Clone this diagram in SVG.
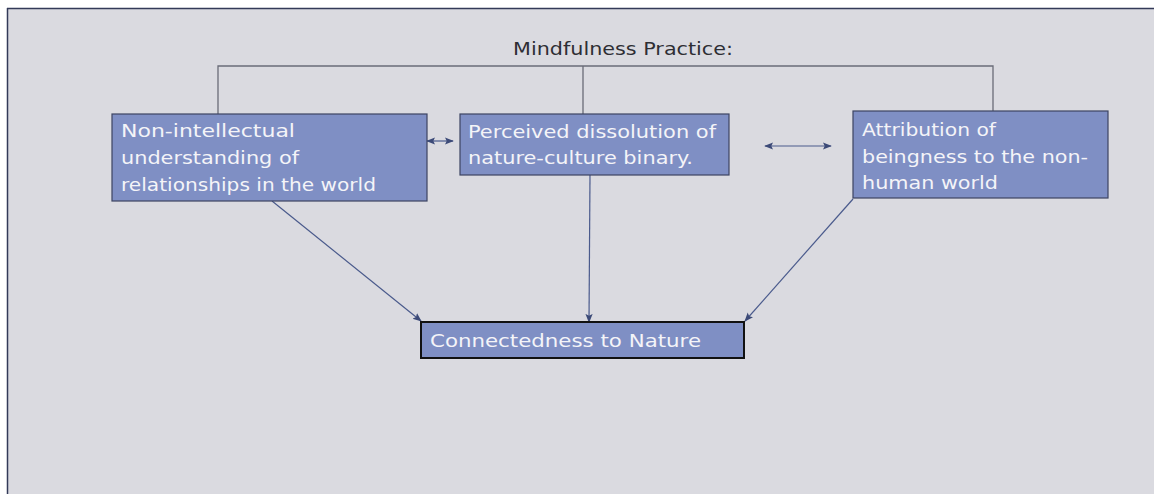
<svg xmlns="http://www.w3.org/2000/svg" width="1154" height="494" viewBox="0 0 1154 494">
<style>
.node rect{fill:#7f8fc4;stroke:#3c4462;stroke-width:1.2}
.node text{font-family:"DejaVu Sans","Liberation Sans",sans-serif;font-size:18px;fill:#f4f4f8}
.bracket{fill:none;stroke:#6a6c78;stroke-width:1.3}
.arr{fill:none;stroke:#4a5a8c;stroke-width:1.2}
</style>
<defs>
<marker id="ah" viewBox="0 0 10 10" refX="9" refY="5" markerWidth="9" markerHeight="9" orient="auto-start-reverse" markerUnits="userSpaceOnUse">
<path d="M0,1 L10,5 L0,9 L2,5 Z" fill="#3c4a78"/>
</marker>
</defs>
<rect x="0" y="0" width="1154" height="494" fill="#ffffff"/>
<rect x="7" y="8" width="1147" height="486" fill="#dadae0"/>
<line x1="7" y1="8.5" x2="1154" y2="8.5" stroke="#333a58" stroke-width="1.5"/>
<line x1="7.5" y1="8" x2="7.5" y2="494" stroke="#333a58" stroke-width="1.5"/>

<g id="title">
<text x="513" y="55" font-family="DejaVu Sans, Liberation Sans, sans-serif" font-size="18" fill="#2e2e34" textLength="220" lengthAdjust="spacingAndGlyphs">Mindfulness Practice:</text>
</g>

<g id="connectors">
<path class="bracket" d="M218,114 V66 H993 V111 M583,66 V114"/>
<line class="arr" x1="427" y1="141" x2="453" y2="141" marker-start="url(#ah)" marker-end="url(#ah)"/>
<line class="arr" x1="765" y1="146" x2="831" y2="146" marker-start="url(#ah)" marker-end="url(#ah)"/>
<line class="arr" x1="272" y1="201" x2="421" y2="321" marker-end="url(#ah)"/>
<line class="arr" x1="590" y1="175" x2="589" y2="322" marker-end="url(#ah)"/>
<line class="arr" x1="853" y1="199" x2="745" y2="321" marker-end="url(#ah)"/>
</g>

<g id="node1" class="node">
<rect x="112" y="114" width="315" height="87"/>
<text x="121" y="137" textLength="174" lengthAdjust="spacingAndGlyphs">Non-intellectual</text>
<text x="121" y="164" textLength="178" lengthAdjust="spacingAndGlyphs">understanding of</text>
<text x="121" y="191" textLength="255" lengthAdjust="spacingAndGlyphs">relationships in the world</text>
</g>

<g id="node2" class="node">
<rect x="460" y="114" width="269" height="61"/>
<text x="468" y="138" textLength="248" lengthAdjust="spacingAndGlyphs">Perceived dissolution of</text>
<text x="468" y="164" textLength="225" lengthAdjust="spacingAndGlyphs">nature-culture binary.</text>
</g>

<g id="node3" class="node">
<rect x="853" y="111" width="255" height="87"/>
<text x="862" y="136" textLength="134" lengthAdjust="spacingAndGlyphs">Attribution of</text>
<text x="862" y="163" textLength="226" lengthAdjust="spacingAndGlyphs">beingness to the non-</text>
<text x="862" y="189" textLength="136" lengthAdjust="spacingAndGlyphs">human world</text>
</g>

<g id="node4" class="node">
<rect x="421" y="322" width="323" height="36" style="stroke:#111;stroke-width:2"/>
<text x="430" y="347" textLength="271" lengthAdjust="spacingAndGlyphs">Connectedness to Nature</text>
</g>
</svg>
